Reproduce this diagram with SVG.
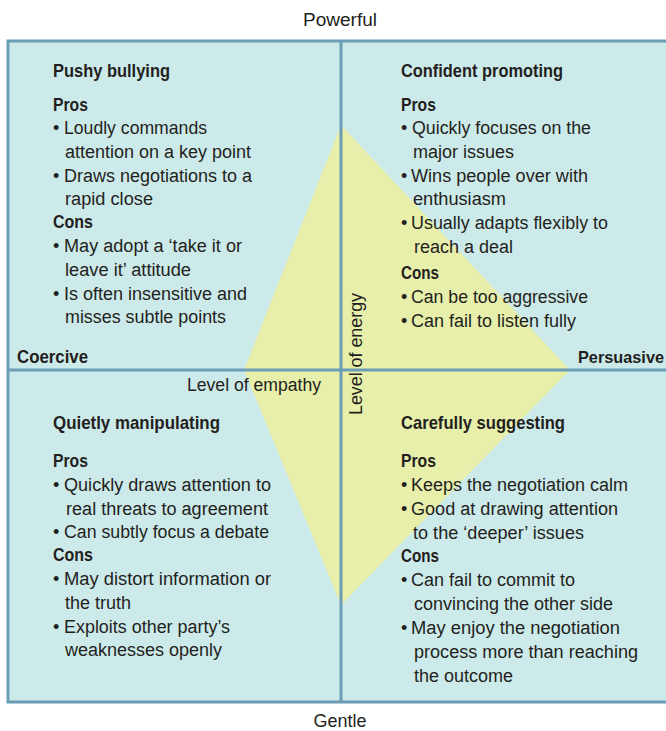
<svg xmlns="http://www.w3.org/2000/svg" width="666" height="731" viewBox="0 0 666 731">
<style>
text{font-family:"Liberation Sans",Arial,sans-serif;fill:#231f20;font-size:18px}
.t{font-weight:bold;font-size:19px}
.h{font-weight:bold}
.ax{font-size:18px}
.axb{font-weight:bold;font-size:18px}
.div{stroke:#6c9db6;stroke-width:3;fill:none}
</style>
<rect x="0" y="0" width="666" height="731" fill="#ffffff"/>
<rect x="8" y="41" width="670" height="661" fill="#cdeaea" stroke="#6c9db6" stroke-width="3"/>
<polygon points="341,125 570,370 341,605 244,370" fill="#e7efab"/>
<g id="connectors">
<line class="div" x1="341" y1="41" x2="341" y2="702"/>
<line class="div" x1="8" y1="370" x2="670" y2="370"/>
</g>
<g id="axis-labels">
<text class="ax" x="340" y="26" text-anchor="middle" textLength="74" lengthAdjust="spacingAndGlyphs">Powerful</text>
<text class="ax" x="340" y="727" text-anchor="middle" textLength="53" lengthAdjust="spacingAndGlyphs">Gentle</text>
<text class="axb" x="17" y="363" textLength="71" lengthAdjust="spacingAndGlyphs">Coercive</text>
<text class="axb" x="578" y="363" style="font-size:16.5px" textLength="86" lengthAdjust="spacingAndGlyphs">Persuasive</text>
<text class="ax" x="187" y="391" textLength="134" lengthAdjust="spacingAndGlyphs">Level of empathy</text>
<text class="ax" x="0" y="0" text-anchor="middle" transform="translate(362,354) rotate(-90)" textLength="122" lengthAdjust="spacingAndGlyphs">Level of energy</text>
</g>
<g id="pushy-bullying">
<text class="t" x="53" y="77" textLength="117" lengthAdjust="spacingAndGlyphs">Pushy bullying</text>
<text class="h" x="53" y="111" textLength="35" lengthAdjust="spacingAndGlyphs">Pros</text>
<text x="53" y="134">•</text><text x="64" y="134" textLength="143" lengthAdjust="spacingAndGlyphs">Loudly commands</text>
<text x="65" y="158" textLength="186" lengthAdjust="spacingAndGlyphs">attention on a key point</text>
<text x="53" y="182">•</text><text x="64" y="182" textLength="188" lengthAdjust="spacingAndGlyphs">Draws negotiations to a</text>
<text x="65" y="205" textLength="88" lengthAdjust="spacingAndGlyphs">rapid close</text>
<text class="h" x="53" y="228" textLength="40" lengthAdjust="spacingAndGlyphs">Cons</text>
<text x="53" y="252">•</text><text x="64" y="252" textLength="178" lengthAdjust="spacingAndGlyphs">May adopt a ‘take it or</text>
<text x="65" y="276" textLength="126" lengthAdjust="spacingAndGlyphs">leave it’ attitude</text>
<text x="53" y="300">•</text><text x="64" y="300" textLength="183" lengthAdjust="spacingAndGlyphs">Is often insensitive and</text>
<text x="65" y="323" textLength="161" lengthAdjust="spacingAndGlyphs">misses subtle points</text>
</g>
<g id="confident-promoting">
<text class="t" x="401" y="77" textLength="162" lengthAdjust="spacingAndGlyphs">Confident promoting</text>
<text class="h" x="401" y="111" textLength="35" lengthAdjust="spacingAndGlyphs">Pros</text>
<text x="401" y="134">•</text><text x="412" y="134" textLength="179" lengthAdjust="spacingAndGlyphs">Quickly focuses on the</text>
<text x="413" y="158" textLength="101" lengthAdjust="spacingAndGlyphs">major issues</text>
<text x="401" y="182">•</text><text x="411" y="182" textLength="177" lengthAdjust="spacingAndGlyphs">Wins people over with</text>
<text x="413" y="205" textLength="93" lengthAdjust="spacingAndGlyphs">enthusiasm</text>
<text x="401" y="229">•</text><text x="411" y="229" textLength="197" lengthAdjust="spacingAndGlyphs">Usually adapts flexibly to</text>
<text x="414" y="253" textLength="99" lengthAdjust="spacingAndGlyphs">reach a deal</text>
<text class="h" x="401" y="279" textLength="38" lengthAdjust="spacingAndGlyphs">Cons</text>
<text x="401" y="303">•</text><text x="411" y="303" textLength="177" lengthAdjust="spacingAndGlyphs">Can be too aggressive</text>
<text x="401" y="327">•</text><text x="411" y="327" textLength="165" lengthAdjust="spacingAndGlyphs">Can fail to listen fully</text>
</g>
<g id="quietly-manipulating">
<text class="t" x="53" y="429" textLength="167" lengthAdjust="spacingAndGlyphs">Quietly manipulating</text>
<text class="h" x="53" y="467" textLength="35" lengthAdjust="spacingAndGlyphs">Pros</text>
<text x="53" y="491">•</text><text x="64" y="491" textLength="207" lengthAdjust="spacingAndGlyphs">Quickly draws attention to</text>
<text x="66" y="515" textLength="202" lengthAdjust="spacingAndGlyphs">real threats to agreement</text>
<text x="53" y="538">•</text><text x="64" y="538" textLength="205" lengthAdjust="spacingAndGlyphs">Can subtly focus a debate</text>
<text class="h" x="53" y="561" textLength="40" lengthAdjust="spacingAndGlyphs">Cons</text>
<text x="53" y="585">•</text><text x="64" y="585" textLength="207" lengthAdjust="spacingAndGlyphs">May distort information or</text>
<text x="65" y="609" textLength="66" lengthAdjust="spacingAndGlyphs">the truth</text>
<text x="53" y="633">•</text><text x="64" y="633" textLength="166" lengthAdjust="spacingAndGlyphs">Exploits other party’s</text>
<text x="65" y="656" textLength="157" lengthAdjust="spacingAndGlyphs">weaknesses openly</text>
</g>
<g id="carefully-suggesting">
<text class="t" x="401" y="429" textLength="164" lengthAdjust="spacingAndGlyphs">Carefully suggesting</text>
<text class="h" x="401" y="467" textLength="35" lengthAdjust="spacingAndGlyphs">Pros</text>
<text x="401" y="491">•</text><text x="411" y="491" textLength="217" lengthAdjust="spacingAndGlyphs">Keeps the negotiation calm</text>
<text x="401" y="515">•</text><text x="411" y="515" textLength="207" lengthAdjust="spacingAndGlyphs">Good at drawing attention</text>
<text x="413" y="539" textLength="171" lengthAdjust="spacingAndGlyphs">to the ‘deeper’ issues</text>
<text class="h" x="401" y="562" textLength="38" lengthAdjust="spacingAndGlyphs">Cons</text>
<text x="401" y="586">•</text><text x="411" y="586" textLength="164" lengthAdjust="spacingAndGlyphs">Can fail to commit to</text>
<text x="414" y="610" textLength="199" lengthAdjust="spacingAndGlyphs">convincing the other side</text>
<text x="401" y="634">•</text><text x="411" y="634" textLength="209" lengthAdjust="spacingAndGlyphs">May enjoy the negotiation</text>
<text x="414" y="658" textLength="224" lengthAdjust="spacingAndGlyphs">process more than reaching</text>
<text x="414" y="682" textLength="99" lengthAdjust="spacingAndGlyphs">the outcome</text>
</g>
</svg>
